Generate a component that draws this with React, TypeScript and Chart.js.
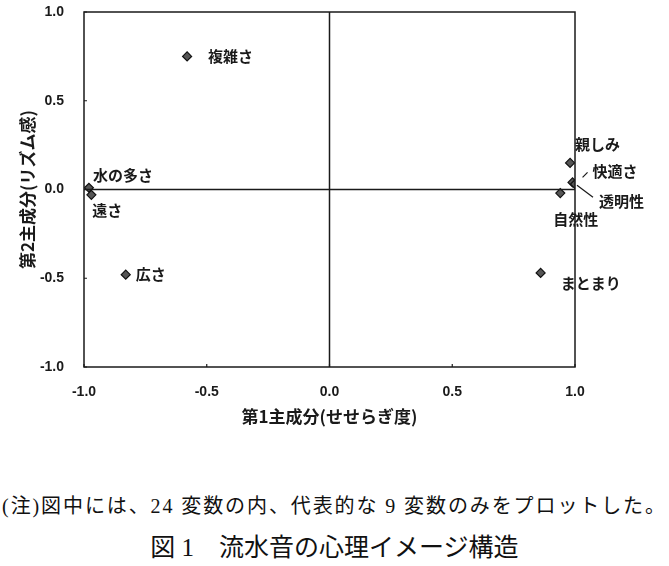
import React, { useEffect, useRef } from 'react';
import { Chart, registerables } from 'chart.js';
Chart.register(...registerables);

// ---- data ----
const pointLabels = ['複雑さ', '水の多さ', '遠さ', '広さ', '親しみ', '快適さ', '透明性', '自然性', 'まとまり'];
const xValues = [-0.58, -0.98, -0.97, -0.83, 0.98, 0.99, 1.0, 0.94, 0.86];
const yValues = [0.75, 0.01, -0.03, -0.48, 0.15, 0.04, 0.03, -0.02, -0.47];
const xTickValues = [-1.0, -0.5, 0.0, 0.5, 1.0];
const yTickValues = [-1.0, -0.5, 0.0, 0.5, 1.0];
const xTitle = '第1主成分(せせらぎ度)';
const yTitle = '第2主成分(リズム感)';
const noteText = '(注)図中には、24 変数の内、代表的な 9 変数のみをプロットした。';
const captionText = '図 1　流水音の心理イメージ構造';

// ---- label styling (offsets in px from the marker) ----
const labelOffsets: [number, number][] = [
  [21, 0], [4, -12], [1, 15], [10, 0], [5, -19], [20, -11], [24, 17], [-7, 26], [20, 10],
];
const leaderLines: { index: number; from: [number, number]; to: [number, number] }[] = [
  { index: 5, from: [10, -5], to: [15, -10] },
  { index: 6, from: [2, 1], to: [18, 13] },
];

const CJK = '"Noto Sans CJK JP", "Noto Sans", sans-serif';
const TICKFONT = '"Liberation Sans", Arial, sans-serif';
const INK = '#1a1a1a';

const framePlugin = {
  id: 'frameAndLabels',
  afterDatasetsDraw(chart: any) {
    const { ctx, chartArea, scales } = chart;
    const { left, right, top, bottom } = chartArea;
    const xs = scales.x;
    const ys = scales.y;
    ctx.save();
    ctx.strokeStyle = INK;
    ctx.lineWidth = 1.5;
    ctx.strokeRect(left, top, right - left, bottom - top);
    const x0 = xs.getPixelForValue(0);
    const y0 = ys.getPixelForValue(0);
    ctx.beginPath();
    ctx.moveTo(x0, top);
    ctx.lineTo(x0, bottom);
    ctx.moveTo(left, y0);
    ctx.lineTo(right, y0);
    ctx.stroke();
    ctx.lineWidth = 1.2;
    ctx.beginPath();
    xTickValues.forEach((v) => {
      const px = xs.getPixelForValue(v);
      ctx.moveTo(px, bottom);
      ctx.lineTo(px, bottom - 3);
    });
    yTickValues.forEach((v) => {
      const py = ys.getPixelForValue(v);
      ctx.moveTo(left, py);
      ctx.lineTo(left + 3, py);
    });
    ctx.stroke();
    const meta = chart.getDatasetMeta(0);
    ctx.fillStyle = INK;
    ctx.font = `bold 15px ${CJK}`;
    ctx.textAlign = 'left';
    ctx.textBaseline = 'middle';
    meta.data.forEach((el: any, i: number) => {
      const [dx, dy] = labelOffsets[i];
      ctx.fillText(pointLabels[i], el.x + dx, el.y + dy);
    });
    ctx.lineWidth = 1.2;
    ctx.beginPath();
    leaderLines.forEach((l) => {
      const el = meta.data[l.index];
      ctx.moveTo(el.x + l.from[0], el.y + l.from[1]);
      ctx.lineTo(el.x + l.to[0], el.y + l.to[1]);
    });
    ctx.stroke();
    ctx.restore();
  },
};

export default function App() {
  const canvasRef = useRef<HTMLCanvasElement | null>(null);

  useEffect(() => {
    if (!canvasRef.current) return;
    const chart = new Chart(canvasRef.current, {
      type: 'scatter',
      data: {
        datasets: [
          {
            data: xValues.map((x, i) => ({ x, y: yValues[i] })),
            pointStyle: 'rectRot',
            pointRadius: 4.5,
            backgroundColor: '#555',
            borderColor: '#111',
            borderWidth: 1.2,
          },
        ],
      },
      options: {
        responsive: false,
        animation: false,
        events: [],
        layout: { padding: { top: 12, right: 94, left: 0, bottom: 0 } },
        plugins: { legend: { display: false }, tooltip: { enabled: false } },
        scales: {
          x: {
            type: 'linear',
            min: -1,
            max: 1,
            afterFit: (s: any) => { s.height = 63; s.paddingLeft = 0; s.paddingRight = 0; },
            afterBuildTicks: (s: any) => { s.ticks = xTickValues.map((v) => ({ value: v })); },
            grid: { display: false },
            border: { display: false },
            ticks: {
              padding: 9,
              color: INK,
              font: { family: TICKFONT, size: 14, weight: 'bold' },
              callback: (v: any) => Number(v).toFixed(1),
            },
            title: {
              display: true,
              text: xTitle,
              color: INK,
              font: { family: CJK, size: 17, weight: 'bold' },
              padding: { top: 0, bottom: 3 },
            },
          },
          y: {
            type: 'linear',
            min: -1,
            max: 1,
            afterFit: (s: any) => { s.width = 84; s.paddingTop = 0; s.paddingBottom = 0; },
            afterBuildTicks: (s: any) => { s.ticks = yTickValues.map((v) => ({ value: v })); },
            grid: { display: false },
            border: { display: false },
            ticks: {
              padding: 12,
              color: INK,
              font: { family: TICKFONT, size: 14, weight: 'bold' },
              callback: (v: any) => Number(v).toFixed(1),
            },
            title: {
              display: true,
              text: yTitle,
              color: INK,
              font: { family: CJK, size: 17, weight: 'bold' },
              padding: { top: 17, bottom: 0 },
            },
          },
        },
      },
      plugins: [framePlugin],
    });
    return () => chart.destroy();
  }, []);

  return (
    <div style={{ position: 'absolute', left: 0, top: 0, width: 669, height: 566, background: '#fff' }}>
      <canvas ref={canvasRef} width={669} height={430} style={{ position: 'absolute', left: 0, top: 0 }} />
      <div
        style={{
          position: 'absolute', left: 0, top: 493, width: 669, textAlign: 'center',
          fontFamily: '"Liberation Serif", "Noto Sans CJK JP", serif', fontSize: 20,
          lineHeight: '26px', color: '#111', letterSpacing: '1.9px', whiteSpace: 'nowrap',
        }}
      >
        {noteText}
      </div>
      <div
        style={{
          position: 'absolute', left: 0, top: 532, width: 669, textAlign: 'center',
          fontFamily: '"Liberation Serif", "Noto Sans CJK JP", serif', fontSize: 25,
          lineHeight: '32px', color: '#111', letterSpacing: '0px', whiteSpace: 'nowrap',
        }}
      >
        {captionText}
      </div>
    </div>
  );
}
